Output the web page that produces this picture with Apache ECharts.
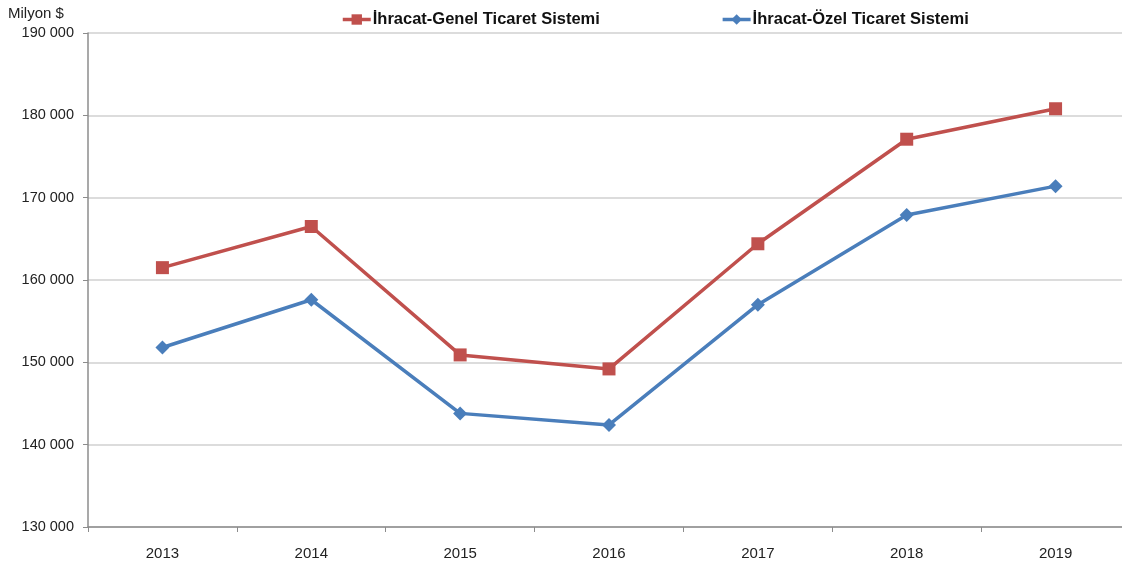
<!DOCTYPE html>
<html>
<head>
<meta charset="utf-8">
<script src="https://cdn.jsdelivr.net/npm/echarts@6/dist/echarts.min.js"></script>
<style>
html,body{margin:0;padding:0;background:#fff;}
#chart{width:1122px;height:573px;}
</style>
</head>
<body>
<div id="chart"></div>
<script>
var years=['2013','2014','2015','2016','2017','2018','2019'];
var genelName='İhracat-Genel Ticaret Sistemi';
var ozelName='İhracat-Özel Ticaret Sistemi';
var genelValues=[161500,166500,150900,149200,164400,177100,180800];
var ozelValues=[151800,157600,143800,142400,157000,167900,171400];

var font='"Liberation Sans",Arial,sans-serif';

var chart=echarts.init(document.getElementById('chart'));
var option={
    animation:false,
    backgroundColor:'#fff',
    textStyle:{fontFamily:font},
    legend:{
        top:6,
        left:336,
        itemGap:121,
        itemWidth:28,
        itemHeight:13,
        lineStyle:{width:3.5},
        textStyle:{fontFamily:font,fontSize:16.5,fontWeight:'bold',color:'#111',padding:[0,0,0,-3]},
        data:[genelName,ozelName]
    },
    grid:{
        left:88,
        top:33,
        width:1042,
        bottom:46,
        outerBoundsMode:'none',
        containLabel:false
    },
    xAxis:{
        type:'category',
        data:years,
        boundaryGap:true,
        axisLine:{lineStyle:{color:'#8c8c8c',width:1.5}},
        axisTick:{show:true,length:5,lineStyle:{color:'#8c8c8c'}},
        axisLabel:{fontFamily:font,fontSize:15,color:'#222',margin:19}
    },
    yAxis:{
        type:'value',
        name:'Milyon $',
        nameLocation:'end',
        nameGap:12,
        nameTextStyle:{fontFamily:font,fontSize:15,color:'#222',align:'left',padding:[0,0,0,-80]},
        min:130000,
        max:190000,
        interval:10000,
        axisLine:{show:true,lineStyle:{color:'#8c8c8c',width:1.5}},
        axisTick:{show:true,length:5,lineStyle:{color:'#8c8c8c'}},
        splitLine:{lineStyle:{color:'#d0d0d0',width:1.5}},
        axisLabel:{
            fontFamily:font,fontSize:14.5,color:'#222',margin:14,
            formatter:function(v){
                var s=String(v);
                return s.slice(0,s.length-3)+' '+s.slice(-3);
            }
        }
    },
    series:[
        {
            name:genelName,
            type:'line',
            data:genelValues,
            symbol:'rect',
            symbolSize:13,
            lineStyle:{color:'#c0504d',width:3.5},
            itemStyle:{color:'#c0504d'}
        },
        {
            name:ozelName,
            type:'line',
            data:ozelValues,
            symbol:'diamond',
            symbolSize:14,
            lineStyle:{color:'#4a7ebb',width:3.5},
            itemStyle:{color:'#4a7ebb'}
        }
    ]
};
chart.setOption(option);
</script>
</body>
</html>
